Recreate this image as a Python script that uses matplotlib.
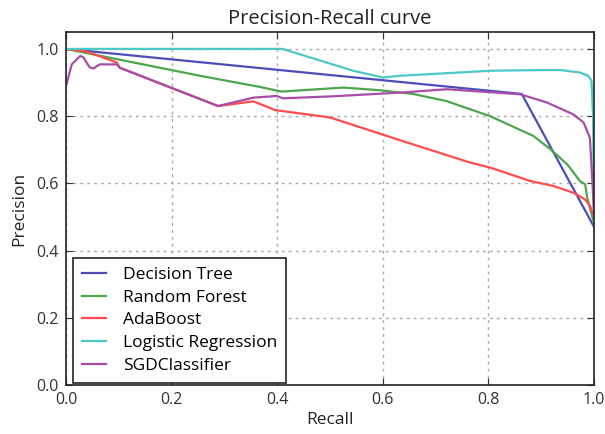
import matplotlib
matplotlib.use("Agg")
import matplotlib.pyplot as plt

plt.rcParams["font.family"] = ["Open Sans", "DejaVu Sans"]

# Recall / precision pairs
dt_recall = [0.0, 0.863, 1.0]
dt_precision = [1.0, 0.866, 0.47]

rf_recall = [0.0, 0.254, 0.367, 0.408, 0.525, 0.595, 0.657, 0.72, 0.803, 0.885, 0.917, 0.95, 0.973, 0.983, 0.987, 1.0]
rf_precision = [1.0, 0.92, 0.887, 0.873, 0.885, 0.877, 0.866, 0.845, 0.80, 0.741, 0.702, 0.655, 0.607, 0.597, 0.557, 0.48]

ada_recall = [0.0, 0.039, 0.096, 0.102, 0.288, 0.355, 0.396, 0.5, 0.633, 0.765, 0.803, 0.879, 0.923, 0.961, 0.983, 0.992, 1.0]
ada_precision = [1.0, 0.992, 0.96, 0.944, 0.83, 0.844, 0.818, 0.796, 0.728, 0.662, 0.647, 0.607, 0.592, 0.572, 0.552, 0.533, 0.50]

lr_recall = [0.0, 0.41, 0.544, 0.6, 0.633, 0.803, 0.898, 0.936, 0.973, 0.989, 0.995, 0.998, 1.0]
lr_precision = [1.0, 1.0, 0.935, 0.915, 0.92, 0.935, 0.937, 0.937, 0.93, 0.92, 0.905, 0.80, 0.48]

sgd_recall = [0.0, 0.001, 0.011, 0.027, 0.033, 0.045, 0.052, 0.064, 0.083, 0.096, 0.102, 0.288, 0.355, 0.399,
              0.411, 0.506, 0.633, 0.721, 0.86, 0.91, 0.961, 0.98, 0.992, 0.997, 1.0]
sgd_precision = [0.90, 0.895, 0.954, 0.979, 0.975, 0.945, 0.942, 0.954, 0.954, 0.954, 0.944, 0.83, 0.855, 0.86,
                 0.853, 0.859, 0.87, 0.88, 0.865, 0.841, 0.805, 0.781, 0.736, 0.60, 0.50]

curves = [
    ("Decision Tree", dt_recall, dt_precision, "#4d4db8"),
    ("Random Forest", rf_recall, rf_precision, "#4da64d"),
    ("AdaBoost", ada_recall, ada_precision, "#ff4d4d"),
    ("Logistic Regression", lr_recall, lr_precision, "#4dc8c8"),
    ("SGDClassifier", sgd_recall, sgd_precision, "#a84da8"),
]

fig = plt.figure(figsize=(6.05, 4.34), dpi=100)
ax = fig.add_axes([0.109, 0.113, 0.873, 0.813])

for name, r, p, c in curves:
    ax.plot(r, p, color=c, lw=1.6, label=name)

ax.set_xlim(0.0, 1.0)
ax.set_ylim(0.0, 1.05)
ax.set_xticks([0.0, 0.2, 0.4, 0.6, 0.8, 1.0])
ax.set_yticks([0.0, 0.2, 0.4, 0.6, 0.8, 1.0])
ax.tick_params(direction="in", top=True, right=True, length=5, labelsize=11.5,
               colors="#333333", pad=5)
ax.grid(True, linestyle=(0, (2, 3)), color="#aaaaaa", lw=1)
for s in ax.spines.values():
    s.set_color("#222222")
    s.set_linewidth(1.2)

ax.set_xlabel("Recall", fontsize=12.5, color="#222222", labelpad=3)
ax.set_ylabel("Precision", fontsize=12.5, color="#222222", labelpad=7)
ax.set_title("Precision-Recall curve", fontsize=14.5, color="#222222", pad=6)

leg = ax.legend(loc="lower left", bbox_to_anchor=(0.013, 0.006), borderaxespad=0,
                fontsize=12.5, fancybox=False, framealpha=1, borderpad=0.53,
                handlelength=1.4, handletextpad=0.95, labelspacing=0.37)
leg.get_frame().set_edgecolor("#222222")
leg.get_frame().set_linewidth(1.2)

fig.savefig("out.png", dpi=100)
